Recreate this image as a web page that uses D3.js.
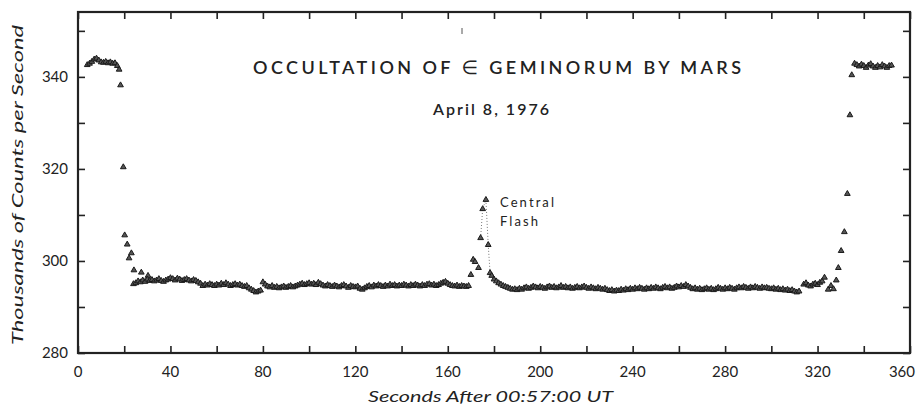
<!DOCTYPE html>
<html>
<head>
<meta charset="utf-8">
<script src="https://cdn.jsdelivr.net/npm/d3@7"></script>
<style>
  body { margin: 0; background: #fff; }
  text { font-family: Lato, "DejaVu Sans", sans-serif; fill: #222; }
</style>
</head>
<body>
<div id="chart"></div>
<script>
// counts in thousands per second
var preStart = 4;   // first second of the unocculted plateau
var preCounts = [342.6, 342.9, 343.3, 343.8, 344.0, 343.6, 343.2, 343.1, 343.3, 343.0, 343.2, 342.9, 343.0, 342.4];

var ingress = [[17.8, 341.6], [18.4, 338.2], [19.6, 320.4], [20.2, 305.6], [21.3, 303.6],
               [22.1, 300.6], [23.1, 301.7], [24.2, 298.0], [27.4, 297.5], [30.3, 296.8]];

var floorAStart = 24;
var floorA = [
  295.0, 295.2, 295.6, 295.4, 295.8, 295.5,
  296.0, 295.7, 295.9, 295.6, 295.8, 296.1, 295.7, 295.5, 295.8, 296.0,
  296.3, 296.1, 295.8, 296.2, 296.0, 295.7, 295.9, 296.1, 295.8, 295.6,
  295.9, 295.7, 295.4, 295.1, 294.6, 294.9, 294.7, 295.0, 294.8, 294.6,
  294.9, 294.7, 295.1, 294.8, 295.2, 294.9, 294.6, 294.8, 295.0, 294.7,
  294.9, 294.6, 294.4, 294.6, 294.1, 293.8, 293.5, 293.2, 293.4, 293.6,
  295.4, 294.9, 294.5, 294.3, 294.6, 294.2, 294.4, 294.1, 294.3, 294.5,
  294.2, 294.4, 294.6, 294.3, 294.5, 294.7, 294.9, 295.1, 294.8, 295.0,
  295.2, 294.9, 295.1, 294.8, 295.3, 295.0, 294.7, 294.5, 294.8, 294.6,
  294.4, 294.7, 294.5, 294.3, 294.6, 294.8, 294.5, 294.2, 294.6, 294.4,
  294.3, 294.5, 294.0, 293.8, 294.1, 294.4, 294.6, 294.3, 294.7, 294.5,
  294.8, 294.6, 294.4, 294.7, 294.5, 294.9, 294.6, 294.8, 294.5, 294.7,
  294.6, 294.9, 294.7, 294.5, 294.8, 294.6, 294.9, 294.7, 294.5, 294.8,
  294.6, 294.9, 295.0, 294.7, 294.9, 294.6, 294.8, 295.1, 295.3, 295.5,
  295.1, 294.8, 294.6, 294.5, 294.7, 294.4, 294.6, 294.5, 294.4, 294.6
];

var flash = [[170.0, 297.0], [171.0, 300.3], [171.8, 299.8], [173.3, 298.5], [174.2, 305.0],
             [175.1, 311.3], [176.5, 313.3], [177.5, 303.5], [178.3, 297.4]];

var floorBStart = 179;
var floorB = [
  296.8, 296.0, 295.6, 295.2, 294.9, 294.6, 294.4,
  294.2, 294.0, 293.8, 293.9, 293.7, 294.0, 293.8, 294.1, 294.3, 294.0,
  294.2, 294.5, 294.3, 294.1, 294.4, 294.2, 294.0, 294.3, 294.5, 294.2,
  294.4, 294.1, 294.3, 294.6, 294.2, 294.4, 294.1, 294.3, 294.0, 294.2,
  294.4, 294.1, 294.3, 294.5, 294.2, 294.0, 294.3, 294.1, 293.9, 294.2,
  294.0, 293.8, 294.0, 293.7, 293.5, 293.7, 293.4, 293.6, 293.5, 293.8,
  293.6, 293.9, 293.7, 294.0, 293.8, 294.1, 293.9, 294.2, 294.0, 293.8,
  294.1, 293.9, 294.2, 294.0, 294.3, 294.1, 293.9, 294.2, 294.4, 294.1,
  294.3, 294.0, 294.2, 294.5, 294.3, 294.6, 294.4, 294.8, 294.5, 294.2,
  293.9, 294.1, 293.8, 294.0, 293.7, 293.9, 294.1, 293.8, 294.0, 293.7,
  293.9, 294.2, 294.0, 293.8, 294.1, 293.9, 294.2, 294.0, 293.8, 294.1,
  294.3, 294.1, 294.4, 294.2, 294.0, 294.3, 294.1, 294.4, 294.2, 294.0,
  294.3, 294.1, 294.2, 294.0, 293.9, 294.1, 293.8, 294.0, 293.7, 293.9,
  293.6, 293.8, 293.5, 293.7, 293.4, 293.2, 293.4
];

var lateStart = 314;
var lateCounts = [294.9, 295.2, 294.7, 294.5, 294.9, 295.1, 294.8, 295.3, 295.6];

var egress = [[323.0, 296.4], [324.6, 293.8], [325.8, 294.6], [326.9, 293.9], [328.1, 295.8],
              [329.0, 298.5], [330.2, 302.2], [331.6, 306.3], [332.9, 314.6], [334.0, 331.7], [334.8, 340.4]];

var postStart = 336;
var postCounts = [342.9, 342.6, 342.3, 342.7, 342.4, 342.0, 342.5, 342.8, 342.3, 342.0, 342.4, 342.1, 342.6, 342.3, 342.0, 342.4, 342.5];

var xTicks = [0, 40, 80, 120, 160, 200, 240, 280, 320, 360];
var yTicks = [280, 300, 320, 340];

function fromSeconds(start, arr) {
  return arr.map(function(v, i) { return [start + i, v]; });
}

var points = [].concat(
  fromSeconds(preStart, preCounts), ingress,
  fromSeconds(floorAStart, floorA), flash,
  fromSeconds(floorBStart, floorB),
  fromSeconds(lateStart, lateCounts), egress,
  fromSeconds(postStart, postCounts));

var W = 917, H = 406;
var margin = {top: 12, right: 7, bottom: 53, left: 78};
var w = W - margin.left - margin.right;
var h = H - margin.top - margin.bottom;

var svg = d3.select("#chart").append("svg")
  .attr("width", W).attr("height", H);

var x = d3.scaleLinear().domain([0, 360]).range([margin.left, margin.left + w]);
var y = d3.scaleLinear().domain([280, 354.1]).range([margin.top + h, margin.top]);

// inward ticks on all four sides
var tickLen = 7;
var minorX = d3.range(0, 361, 20);
var minorY = d3.range(280, 351, 10);

svg.append("g").attr("transform", "translate(0," + (margin.top + h) + ")")
  .call(d3.axisTop(x).tickValues(minorX).tickSize(tickLen).tickFormat(""));
svg.append("g").attr("transform", "translate(0," + margin.top + ")")
  .call(d3.axisBottom(x).tickValues(minorX).tickSize(tickLen).tickFormat(""));
svg.append("g").attr("transform", "translate(" + margin.left + ",0)")
  .call(d3.axisRight(y).tickValues(minorY).tickSize(tickLen).tickFormat(""));
svg.append("g").attr("transform", "translate(" + (margin.left + w) + ",0)")
  .call(d3.axisLeft(y).tickValues(minorY).tickSize(tickLen).tickFormat(""));

svg.selectAll(".domain").remove();
svg.selectAll(".tick line").attr("stroke", "#222").attr("stroke-width", 1.6);

svg.append("rect")
  .attr("x", margin.left).attr("y", margin.top)
  .attr("width", w).attr("height", h)
  .attr("fill", "none").attr("stroke", "#222").attr("stroke-width", 2.2);

// tick labels (the last one is squeezed in at the page edge)
svg.selectAll(".xlab").data(xTicks).enter().append("text")
  .attr("x", function(d, i) { return i == xTicks.length - 1 ? W - 2 : x(d); })
  .attr("y", margin.top + h + 24)
  .attr("text-anchor", function(d, i) { return i == xTicks.length - 1 ? "end" : "middle"; })
  .style("font-size", "15px")
  .text(function(d) { return d; });

svg.selectAll(".ylab").data(yTicks).enter().append("text")
  .attr("x", margin.left - 10)
  .attr("y", function(d) { return y(d) + 5; })
  .attr("text-anchor", "end")
  .style("font-size", "15px")
  .text(function(d) { return d; });

// axis titles
svg.append("text")
  .attr("x", 368).attr("y", 402)
  .attr("textLength", 245).attr("lengthAdjust", "spacingAndGlyphs")
  .style("font-size", "15px").style("font-style", "italic")
  .text("Seconds After 00:57:00 UT");

svg.append("text")
  .attr("transform", "translate(23,185) rotate(-90)")
  .attr("text-anchor", "middle")
  .attr("textLength", 320).attr("lengthAdjust", "spacingAndGlyphs")
  .style("font-size", "15px").style("font-style", "italic")
  .text("Thousands of Counts per Second");

// titles inside the plot
var title = svg.append("text")
  .attr("x", 253).attr("y", 74)
  .attr("textLength", 488).attr("lengthAdjust", "spacing")
  .style("font-size", "18px").style("font-weight", "600");
title.append("tspan").text("OCCULTATION  OF  ");
title.append("tspan").style("font-family", "'DejaVu Sans'").style("font-weight", "normal").style("font-size", "19px").text("\u2208");
title.append("tspan").text(" GEMINORUM  BY  MARS");

svg.append("text")
  .attr("x", 433).attr("y", 115)
  .attr("textLength", 116).attr("lengthAdjust", "spacing")
  .style("font-size", "16px").style("font-weight", "600")
  .text("April 8, 1976");

svg.append("text")
  .attr("x", 500).attr("y", 207)
  .attr("textLength", 54).attr("lengthAdjust", "spacing")
  .style("font-size", "13px")
  .text("Central");
svg.append("text")
  .attr("x", 500).attr("y", 226)
  .attr("textLength", 38).attr("lengthAdjust", "spacing")
  .style("font-size", "13px")
  .text("Flash");

// small stray mark above the flash
svg.append("line")
  .attr("x1", 462).attr("x2", 462).attr("y1", 28).attr("y2", 34)
  .attr("stroke", "#555").attr("stroke-width", 1);

// dotted trace through the central flash
var line = d3.line().x(function(d) { return x(d[0]); }).y(function(d) { return y(d[1]); });
svg.append("path")
  .datum(flash.slice(4))
  .attr("d", line)
  .attr("fill", "none").attr("stroke", "#555").attr("stroke-width", 0.8)
  .attr("stroke-dasharray", "1,2");

// triangle markers
var tri = d3.symbol().type(d3.symbolTriangle).size(14);
svg.append("g").selectAll("path").data(points).enter().append("path")
  .attr("d", tri)
  .attr("transform", function(d) { return "translate(" + x(d[0]) + "," + y(d[1]) + ")"; })
  .attr("fill", "#555").attr("stroke", "#1a1a1a").attr("stroke-width", 1);
</script>
</body>
</html>
